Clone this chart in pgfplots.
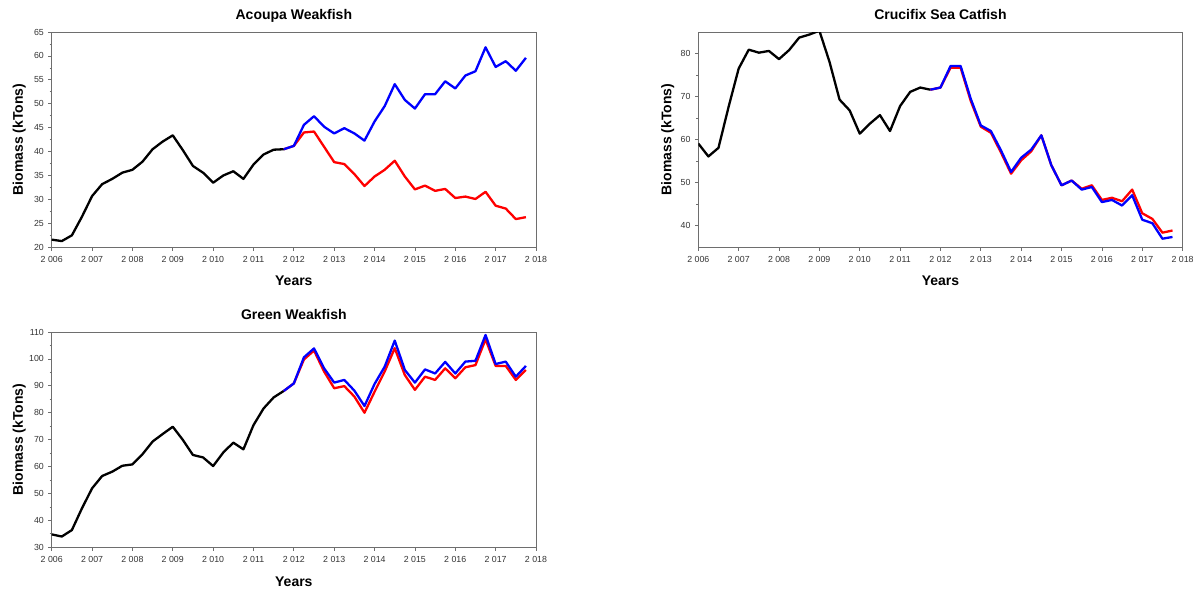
\documentclass[border=0pt]{standalone}
\usepackage{fontspec}
\setmainfont{Liberation Sans}
\usepackage{pgfplots}
\pgfplotsset{compat=1.18}
\definecolor{axgray}{HTML}{6E6E6E}
\definecolor{lblgray}{HTML}{333333}
\pgfplotsset{
  fishaxis/.style={
    scale only axis,
    width=484.3pt, height=215.3pt,
    anchor=north west,
    xmin=2006, xmax=2018,
    xtick={2006,2007,...,2018},
    xticklabels={2 006,2 007,2 008,2 009,2 010,2 011,2 012,2 013,2 014,2 015,2 016,2 017,2 018},
    minor x tick num=1, minor y tick num=1,
    xtick pos=bottom, ytick pos=left,
    tick align=outside,
    major tick length=3.3pt, minor tick length=2pt,
    axis line style={axgray, line width=0.8pt},
    every tick/.style={axgray, line width=0.7pt},
    tick label style={font=\fontsize{8.8}{10}\selectfont, text=lblgray},
    /pgf/number format/assume math mode=true,
    xticklabel style={yshift=-2.5pt},
    yticklabel style={xshift=-1pt},
    title style={font=\fontsize{14}{16}\selectfont\bfseries, at={(axis description cs:0.5,1)}, anchor=base, yshift=7pt},
    xlabel style={font=\fontsize{14}{16}\selectfont\bfseries, at={(axis description cs:0.5,0)}, anchor=base, yshift=-38.4pt},
    ylabel style={font=\fontsize{14}{16}\selectfont\bfseries, at={([xshift=-28.7pt]axis description cs:0,0.5)}, anchor=base, rotate=0},
    xlabel={Years}, ylabel={Biomass (kTons)},
    every axis plot/.append style={line width=2.3pt, line join=round, mark=none},
  }
}
\begin{document}
\begin{tikzpicture}
\path[use as bounding box] (0pt,0pt) rectangle (1194pt,-592pt);
% Acoupa Weakfish
\begin{axis}[fishaxis, at={(51.7pt,-32pt)}, title={Acoupa Weakfish},
  ymin=20, ymax=65, ytick={20,25,...,65}]
\addplot[black] coordinates {(2006,21.6)(2006.25,21.3)(2006.5,22.5)(2006.75,26.4)(2007,30.7)(2007.25,33.2)(2007.5,34.3)(2007.75,35.6)(2008,36.2)(2008.25,37.9)(2008.5,40.5)(2008.75,42.1)(2009,43.4)(2009.25,40.3)(2009.5,37.0)(2009.75,35.6)(2010,33.5)(2010.25,35.0)(2010.5,35.9)(2010.75,34.3)(2011,37.3)(2011.25,39.4)(2011.5,40.4)(2011.75,40.5)};
\addplot[red] coordinates {(2011.75,40.5)(2012,41.2)(2012.25,44.0)(2012.5,44.2)(2012.75,41.0)(2013,37.8)(2013.25,37.4)(2013.5,35.3)(2013.75,32.8)(2014,34.8)(2014.25,36.2)(2014.5,38.1)(2014.75,34.8)(2015,32.1)(2015.25,32.9)(2015.5,31.8)(2015.75,32.2)(2016,30.3)(2016.25,30.6)(2016.5,30.1)(2016.75,31.6)(2017,28.7)(2017.25,28.1)(2017.5,25.9)(2017.75,26.3)};
\addplot[blue] coordinates {(2011.75,40.5)(2012,41.2)(2012.25,45.6)(2012.5,47.4)(2012.75,45.2)(2013,43.8)(2013.25,44.9)(2013.5,43.8)(2013.75,42.3)(2014,46.3)(2014.25,49.5)(2014.5,54.1)(2014.75,50.8)(2015,49.0)(2015.25,52.0)(2015.5,52.0)(2015.75,54.7)(2016,53.2)(2016.25,55.9)(2016.5,56.8)(2016.75,61.8)(2017,57.7)(2017.25,58.9)(2017.5,56.9)(2017.75,59.6)};
\end{axis}
% Crucifix Sea Catfish
\begin{axis}[fishaxis, at={(698.3pt,-32pt)}, title={Crucifix Sea Catfish},
  ymin=35, ymax=85, ytick={40,50,...,80},
  ylabel style={at={([xshift=-27pt]axis description cs:0,0.5)}}]
\addplot[black] coordinates {(2006,59.1)(2006.25,56.1)(2006.5,58.1)(2006.75,67.6)(2007,76.5)(2007.25,80.9)(2007.5,80.2)(2007.75,80.6)(2008,78.7)(2008.25,80.8)(2008.5,83.7)(2008.75,84.4)(2009,85.3)(2009.25,78.1)(2009.5,69.3)(2009.75,66.8)(2010,61.4)(2010.25,63.7)(2010.5,65.7)(2010.75,62.0)(2011,67.8)(2011.25,71.1)(2011.5,72.1)(2011.75,71.6)};
\addplot[red] coordinates {(2011.75,71.6)(2012,72.1)(2012.25,76.7)(2012.5,76.7)(2012.75,69.0)(2013,63.0)(2013.25,61.6)(2013.5,57.0)(2013.75,52.1)(2014,55.2)(2014.25,57.3)(2014.5,61.0)(2014.75,54.0)(2015,49.4)(2015.25,50.5)(2015.5,48.6)(2015.75,49.4)(2016,46.0)(2016.25,46.5)(2016.5,45.7)(2016.75,48.4)(2017,42.9)(2017.25,41.6)(2017.5,38.4)(2017.75,38.9)};
\addplot[blue] coordinates {(2011.75,71.6)(2012,72.1)(2012.25,77.1)(2012.5,77.1)(2012.75,69.5)(2013,63.3)(2013.25,62.0)(2013.5,57.5)(2013.75,52.5)(2014,55.8)(2014.25,57.7)(2014.5,61.0)(2014.75,54.0)(2015,49.4)(2015.25,50.5)(2015.5,48.4)(2015.75,49.0)(2016,45.5)(2016.25,46.0)(2016.5,44.7)(2016.75,47.1)(2017,41.4)(2017.25,40.6)(2017.5,37.0)(2017.75,37.4)};
\end{axis}
% Green Weakfish
\begin{axis}[fishaxis, at={(51.7pt,-332pt)}, title={Green Weakfish},
  ymin=30, ymax=110, ytick={30,40,...,110},
  xlabel style={yshift=-1pt}]
\addplot[black] coordinates {(2006,34.8)(2006.25,34.0)(2006.5,36.4)(2006.75,44.5)(2007,51.9)(2007.25,56.5)(2007.5,58.1)(2007.75,60.3)(2008,60.8)(2008.25,64.6)(2008.5,69.3)(2008.75,72.1)(2009,74.8)(2009.25,69.9)(2009.5,64.3)(2009.75,63.4)(2010,60.2)(2010.25,65.2)(2010.5,68.9)(2010.75,66.4)(2011,75.4)(2011.25,81.6)(2011.5,85.7)(2011.75,88.1)};
\addplot[red] coordinates {(2011.75,88.1)(2012,90.9)(2012.25,99.8)(2012.5,103.1)(2012.75,95.3)(2013,89.1)(2013.25,89.9)(2013.5,86.0)(2013.75,80.0)(2014,87.8)(2014.25,95.3)(2014.5,104.0)(2014.75,94.0)(2015,88.5)(2015.25,93.4)(2015.5,92.2)(2015.75,96.5)(2016,92.8)(2016.25,96.9)(2016.5,97.7)(2016.75,107.3)(2017,97.4)(2017.25,97.4)(2017.5,92.2)(2017.75,95.9)};
\addplot[blue] coordinates {(2011.75,88.1)(2012,90.9)(2012.25,100.6)(2012.5,103.9)(2012.75,96.5)(2013,91.2)(2013.25,92.2)(2013.5,88.2)(2013.75,82.5)(2014,90.7)(2014.25,97.1)(2014.5,106.8)(2014.75,95.9)(2015,91.2)(2015.25,96.1)(2015.5,94.6)(2015.75,98.9)(2016,94.6)(2016.25,99.0)(2016.5,99.3)(2016.75,108.9)(2017,98.1)(2017.25,99.0)(2017.5,93.4)(2017.75,97.4)};
\end{axis}
\end{tikzpicture}
\end{document}
